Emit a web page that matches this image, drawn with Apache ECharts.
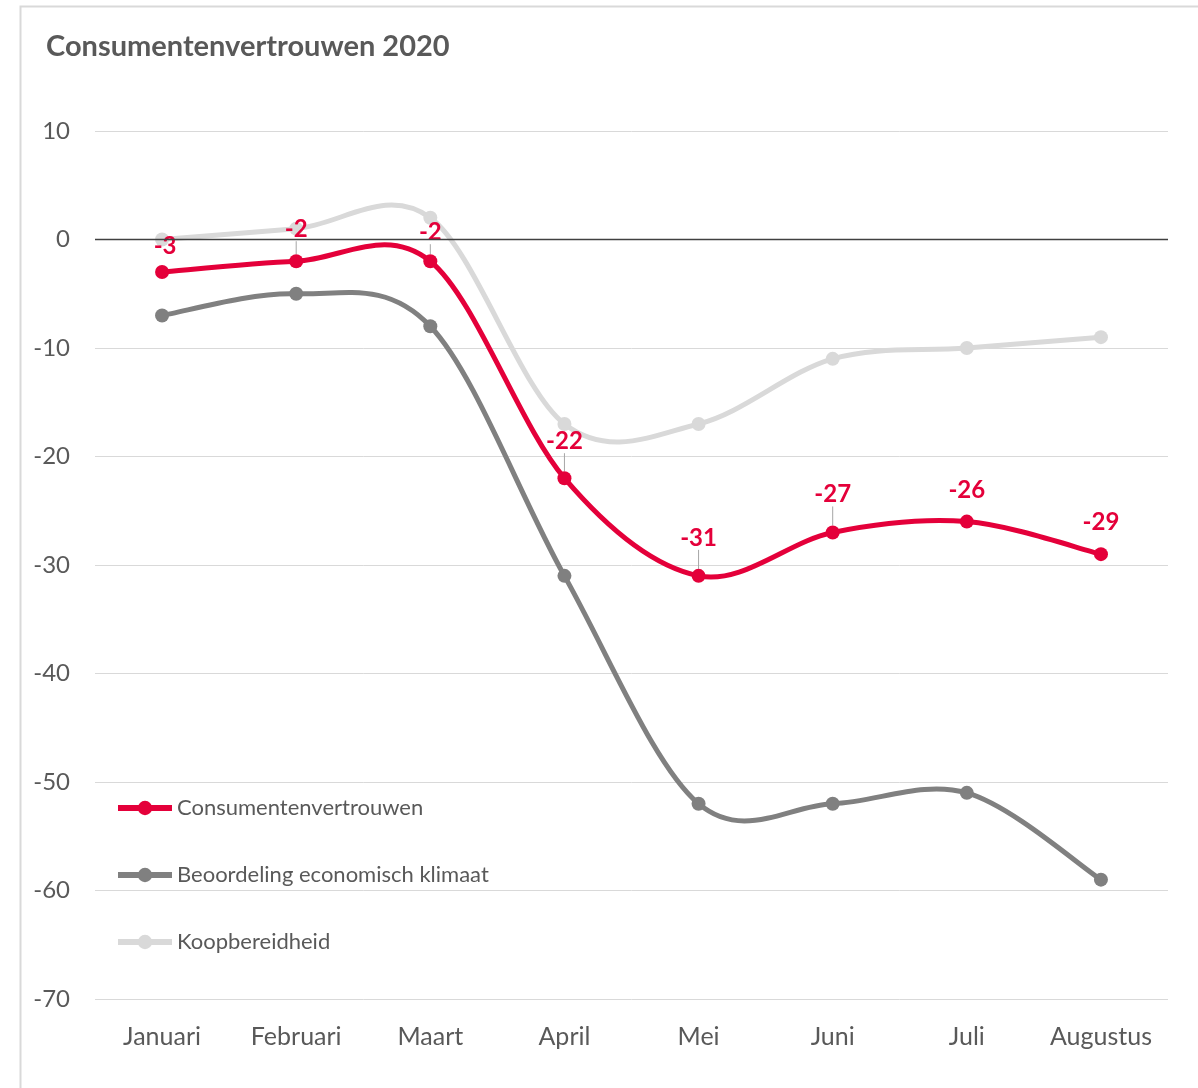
<!DOCTYPE html>
<html>
<head>
<meta charset="utf-8">
<script src="https://cdn.jsdelivr.net/npm/echarts@6/dist/echarts.min.js"></script>
<style>html,body{margin:0;padding:0;background:#fff;}#c{width:1198px;height:1088px;}</style>
</head>
<body>
<div id="c"></div>
<script>
const categories = ['Januari','Februari','Maart','April','Mei','Juni','Juli','Augustus'];
const consumentenvertrouwen = [-3, -2, -2, -22, -31, -27, -26, -29];
const economischKlimaat = [-7, -5, -8, -31, -52, -52, -51, -59];
const koopbereidheid = [0, 1, 2, -17, -17, -11, -10, -9];
const yTicks = {min: -70, max: 10, interval: 10};

const FONT = 'Lato, "Open Sans", sans-serif';
const RED = '#E4003A', DARK = '#808080', LIGHT = '#D9D9D9', TXT = '#595959';
const LINE_W = 5;

// label nudges (style only): extra upward shift per point, and which get a leader line
const labelDy = [1, -5, -2, -10, -11, -11, -4, -5];
const labelDx = [3, 0, 0, 0, 0, 0, 0, 0];
const leader = [false, true, true, true, true, true, false, false];

const chart = echarts.init(document.getElementById('c'), null, {renderer: 'canvas'});

// Excel-like (Catmull-Rom) smoothed curve drawn through the chart's own scales
function curveSeries(name, values, color, z) {
  const n = values.length;
  const clampIdx = k => Math.max(0, Math.min(n - 1, k));
  return {
    name: name + ' ', type: 'custom', z: z, silent: true,
    data: values.map((v, i) => [i, v]),
    encode: {x: 0, y: 1},
    renderItem: function (params, api) {
      const i = params.dataIndex;
      if (i >= n - 1) return null;
      const P = k => { const j = clampIdx(k); return api.coord([j, values[j]]); };
      const p0 = P(i - 1), p1 = P(i), p2 = P(i + 1), p3 = P(i + 2);
      const c1 = [p1[0] + (p2[0] - p0[0]) / 6, p1[1] + (p2[1] - p0[1]) / 6];
      const c2 = [p2[0] - (p3[0] - p1[0]) / 6, p2[1] - (p3[1] - p1[1]) / 6];
      return {
        type: 'bezierCurve',
        shape: {x1: p1[0], y1: p1[1], x2: p2[0], y2: p2[1],
                cpx1: c1[0], cpy1: c1[1], cpx2: c2[0], cpy2: c2[1]},
        style: {stroke: color, lineWidth: LINE_W, fill: null, lineCap: 'round'}
      };
    }
  };
}

function markerSeries(name, values, color, z, extra) {
  return Object.assign({
    name: name, type: 'line', data: values, smooth: false,
    symbol: 'circle', symbolSize: 14, z: z,
    lineStyle: {color: color, width: LINE_W, opacity: 0},
    itemStyle: {color: color}
  }, extra || {});
}

const redData = consumentenvertrouwen.map((v, i) => ({
  value: v,
  labelLine: {show: leader[i]}
}));

chart.setOption({
  animation: false,
  backgroundColor: '#fff',
  graphic: [{
    type: 'polyline', silent: true,
    shape: {points: [[20.5, 1088], [20.5, 6.5], [1198, 6.5]]},
    style: {stroke: '#D9D9D9', lineWidth: 2, fill: null}
  }],
  title: {
    text: 'Consumentenvertrouwen 2020',
    left: 41, top: 27,
    textStyle: {fontFamily: FONT, fontSize: 29, fontWeight: 'bold', color: TXT}
  },
  legend: {
    orient: 'vertical', left: 115, top: 797, padding: 0,
    itemWidth: 54, itemHeight: 18, itemGap: 45,
    textStyle: {fontFamily: FONT, fontSize: 22, color: TXT},
    data: [
      {name: 'Consumentenvertrouwen', lineStyle: {color: RED, width: 6, opacity: 1}},
      {name: 'Beoordeling economisch klimaat', lineStyle: {color: DARK, width: 6, opacity: 1}},
      {name: 'Koopbereidheid', lineStyle: {color: LIGHT, width: 6, opacity: 1}}
    ]
  },
  grid: {left: 95, right: 30, top: 131, bottom: 89, containLabel: false},
  xAxis: {
    type: 'category', data: categories, boundaryGap: true,
    axisLine: {show: false}, axisTick: {show: false},
    axisLabel: {fontFamily: FONT, fontSize: 25, color: TXT, margin: 25}
  },
  yAxis: {
    type: 'value', min: yTicks.min, max: yTicks.max, interval: yTicks.interval,
    axisLine: {show: false}, axisTick: {show: false},
    axisLabel: {fontFamily: FONT, fontSize: 24, color: TXT, margin: 25},
    splitLine: {lineStyle: {color: '#D9D9D9', width: 1}}
  },
  series: [
    curveSeries('Koopbereidheid', koopbereidheid, LIGHT, 2),
    markerSeries('Koopbereidheid', koopbereidheid, LIGHT, 2, {
      markLine: {
        silent: true, symbol: 'none', label: {show: false},
        lineStyle: {color: '#404040', width: 1.3, type: 'solid'},
        data: [{yAxis: 0}]
      }
    }),
    curveSeries('Beoordeling economisch klimaat', economischKlimaat, DARK, 3),
    markerSeries('Beoordeling economisch klimaat', economischKlimaat, DARK, 3),
    curveSeries('Consumentenvertrouwen', consumentenvertrouwen, RED, 4),
    markerSeries('Consumentenvertrouwen', redData, RED, 4, {
      label: {
        show: true, position: 'top', distance: 8,
        fontFamily: FONT, fontSize: 24, fontWeight: 'bold', color: RED
      },
      labelLayout: function (params) {
        return {dx: labelDx[params.dataIndex], dy: labelDy[params.dataIndex]};
      },
      labelLine: {show: true, lineStyle: {color: '#A6A6A6', width: 1}}
    })
  ]
});
</script>
</body>
</html>
